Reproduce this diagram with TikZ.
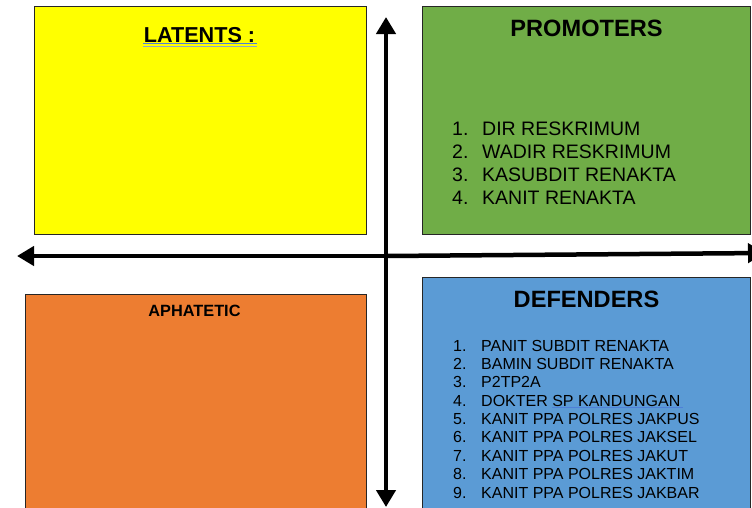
\documentclass[tikz,border=0pt]{standalone}
\usepackage{fontspec}
\setmainfont{Liberation Sans}
\usetikzlibrary{arrows.meta}
\definecolor{cyel}{HTML}{FFFF00}
\definecolor{cgrn}{HTML}{70AD47}
\definecolor{corg}{HTML}{ED7D31}
\definecolor{cblu}{HTML}{5B9BD5}
\definecolor{uline}{HTML}{4F7FD8}
\definecolor{uline2}{HTML}{8FA8C8}
\begin{document}
\begin{tikzpicture}[x=1pt,y=-1pt,
  quad/.style={draw=black!85,line width=0.9pt},
  axis/.style={line width=4.5pt,-{Triangle[length=17pt,width=19pt]}},
  head/.style={font=\fontsize{23.6}{27}\selectfont\bfseries,inner sep=0pt},
  plist/.style={font=\fontsize{19.5}{22}\selectfont,inner sep=0pt,anchor=base west},
  dlist/.style={font=\fontsize{16}{18}\selectfont,inner sep=0pt,anchor=base west}]
\clip (0,0) rectangle (752,507);
\fill[white] (0,0) rectangle (752,507);
% quadrants
\path[quad,fill=cyel] (34,6) rectangle (366,234);
\path[quad,fill=cgrn] (422,6) rectangle (750,234);
\path[quad,fill=corg] (25,294) rectangle (366,515);
\path[quad,fill=cblu] (422,277) rectangle (750,515);
% axes
\coordinate (cx) at (386,256);
\coordinate (ltip) at (17,256);
\coordinate (rtip) at (765,253);
\coordinate (ttip) at (386,17);
\coordinate (btip) at (386,507);
\draw[axis] (cx) -- (ltip);
\draw[axis] (cx) -- (rtip);
\draw[axis] (cx) -- (ttip);
\draw[axis] (cx) -- (btip);
% headings
\node[head,font=\fontsize{21.6}{25}\selectfont\bfseries] (lat) at (199.5,35) {LATENTS :};
\draw[uline,line width=1.2pt] (143,43.5) -- (257,43.5);
\draw[uline2,line width=1.2pt] (143,46.5) -- (257,46.5);
\node[head] (pro) at (586.5,28) {PROMOTERS};
\node[head] (def) at (586.5,299) {DEFENDERS};
\node[head,font=\fontsize{16.3}{19}\selectfont\bfseries] (aph) at (194.5,311) {APHATETIC};
% promoters list
\foreach \i/\t in {1/DIR RESKRIMUM,2/WADIR RESKRIMUM,3/KASUBDIT RENAKTA,4/KANIT RENAKTA}{
  \node[plist] (pn\i) at (452,{135.5+23*(\i-1)}) {\i.};
  \node[plist] (pt\i) at (482,{135.5+23*(\i-1)}) {\t};
}
% defenders list
\foreach \i/\t in {1/PANIT SUBDIT RENAKTA,2/BAMIN SUBDIT RENAKTA,3/P2TP2A,4/DOKTER SP KANDUNGAN,5/KANIT PPA POLRES JAKPUS,6/KANIT PPA POLRES JAKSEL,7/KANIT PPA POLRES JAKUT,8/KANIT PPA POLRES JAKTIM,9/KANIT PPA POLRES JAKBAR}{
  \node[dlist] (dn\i) at (453,{351+18.375*(\i-1)}) {\i.};
  \node[dlist] (dt\i) at (481,{351+18.375*(\i-1)}) {\t};
}
\draw[uline,line width=1pt] (552,407.8) -- (683,407.8);
\end{tikzpicture}
\end{document}
